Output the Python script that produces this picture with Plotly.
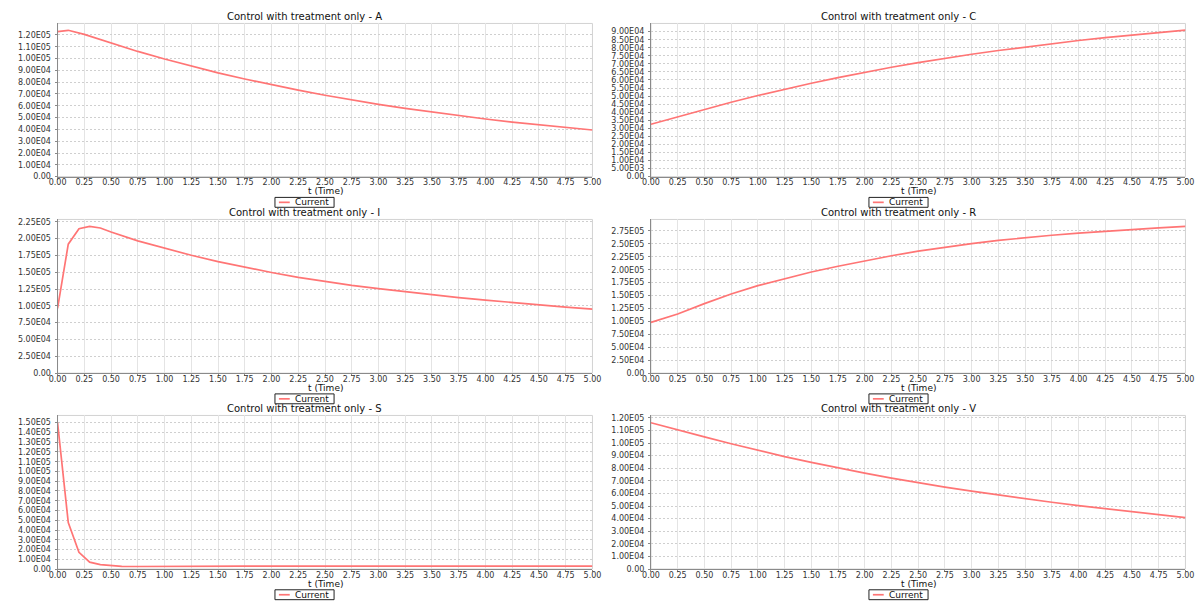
import plotly.graph_objects as go

# ---- data -------------------------------------------------------------
t_A = [0, 0.1, 0.25, 0.5, 0.75, 1.0, 1.25, 1.5, 1.75, 2.0, 2.25, 2.5, 2.75,
       3.0, 3.25, 3.5, 3.75, 4.0, 4.25, 4.5, 4.75, 5.0]
A = [122800, 123900, 120500, 113000, 106000, 99600, 93500, 87900, 82700,
     77800, 73200, 68900, 64900, 61200, 57800, 54600, 51600, 48800, 46200,
     43800, 41600, 39500]

t_C = [0, 0.25, 0.5, 0.75, 1.0, 1.25, 1.5, 1.75, 2.0, 2.25, 2.5, 2.75,
       3.0, 3.25, 3.5, 3.75, 4.0, 4.25, 4.5, 4.75, 5.0]
C = [32500, 37200, 41800, 46200, 50400, 54300, 58000, 61500, 64800, 67900,
     70800, 73500, 76000, 78300, 80500, 82600, 84500, 86300, 88000, 89600,
     91000]

t_I = [0, 0.1, 0.2, 0.3, 0.4, 0.5, 0.75, 1.0, 1.25, 1.5, 1.75, 2.0, 2.25,
       2.5, 2.75, 3.0, 3.25, 3.5, 3.75, 4.0, 4.25, 4.5, 4.75, 5.0]
I = [96400, 191700, 214700, 218100, 215700, 209800, 196600, 185400, 175200,
     165800, 157500, 149600, 142300, 136000, 130500, 125500, 120800, 116500,
     112300, 108500, 104800, 101400, 98100, 95000]

t_R = [0, 0.25, 0.5, 0.75, 1.0, 1.25, 1.5, 1.75, 2.0, 2.25, 2.5, 2.75,
       3.0, 3.25, 3.5, 3.75, 4.0, 4.25, 4.5, 4.75, 5.0]
R = [98200, 114500, 134400, 153000, 169400, 183000, 195600, 206700, 217200,
     227000, 236000, 243800, 250700, 256800, 262100, 266700, 270800, 274500,
     277900, 281000, 283800]

t_S = [0, 0.1, 0.2, 0.3, 0.4, 0.5, 0.6, 0.75, 1.0, 1.25, 1.5, 1.6, 1.75,
       2.0, 2.5, 3.0, 3.5, 4.0, 4.5, 5.0]
S = [150000, 47600, 17200, 7100, 4500, 3300, 2800, 2600, 2500, 2500, 2500,
     2900, 2900, 2900, 2950, 2950, 3000, 3000, 3000, 3000]

t_V = [0, 0.25, 0.5, 0.75, 1.0, 1.25, 1.5, 1.75, 2.0, 2.25, 2.5, 2.75,
       3.0, 3.25, 3.5, 3.75, 4.0, 4.25, 4.5, 4.75, 5.0]
V = [116100, 110300, 104900, 99400, 94100, 89200, 84700, 80300, 76100,
     72200, 68500, 65000, 61800, 58700, 55800, 53000, 50300, 47800, 45400,
     43000, 40800]

# panel name -> (times, values, axis max, top tick, tick step)
panels = [
    ("A", t_A, A, 129700, 120000, 10000),
    ("C", t_C, C, 95100, 90000, 5000),
    ("I", t_I, I, 228400, 225000, 25000),
    ("R", t_R, R, 297300, 275000, 25000),
    ("S", t_S, S, 157400, 150000, 10000),
    ("V", t_V, V, 121900, 120000, 10000),
]

x_ticks = [i * 0.25 for i in range(21)]
x_tick_text = [f"{v:.2f}" for v in x_ticks]

TITLE_PREFIX = "Control with treatment only - "
SERIES_NAME = "Current"
X_TITLE = "t (Time)"

# ---- styling / layout --------------------------------------------------
W, H = 1204, 603
LINE_COLOR = "#ff7575"
FONT = "DejaVu Sans"

col_px = [(49.3, 592.3), (651.7, 1194.3)]                 # plot-area left/right
row_px = [(21.7, 176.7), (220.0, 375.5), (418.3, 573.7)]  # plot-area top/bottom
panel_center = [300.0, 903.0]                             # chart panel centres
LEG_W, LEG_H = 60, 10                                     # legend box size (px)


def sci(v):
    if v == 0:
        return "0.00"
    m, e = f"{v:.2E}".split("E")
    return f"{m}E{int(e):02d}"


def px_x(x):
    return x / W


def px_y(y):
    return 1 - y / H


fig = go.Figure()
annotations = []
shapes = []

for k, (name, tt, vals, ymax, ytop, step) in enumerate(panels):
    row, col = divmod(k, 2)
    idx = "" if k == 0 else str(k + 1)
    xa, ya = "x" + idx, "y" + idx
    (x0, x1), (y0, y1) = col_px[col], row_px[row]

    fig.add_trace(go.Scatter(
        x=tt, y=vals, mode="lines", name=SERIES_NAME, showlegend=False,
        line=dict(color=LINE_COLOR, width=1.7), xaxis=xa, yaxis=ya,
    ))

    yticks = [i * step for i in range(int(ytop // step) + 1)]
    fig.layout["xaxis" + idx] = dict(
        domain=[px_x(x0), px_x(x1)], anchor=ya, range=[0, 5],
        tickvals=x_ticks, ticktext=x_tick_text,
        showgrid=True, gridcolor="#e4e4e4", gridwidth=1,
        showline=True, linecolor="#8a8a8a", linewidth=1,
        ticks="outside", ticklen=2, tickcolor="#8a8a8a",
        ticklabelstandoff=-4,
        tickfont=dict(family=FONT, size=8, color="#333"),
        zeroline=False, fixedrange=True,
    )
    fig.layout["yaxis" + idx] = dict(
        domain=[px_y(y1), px_y(y0)], anchor=xa, range=[0, ymax],
        tickvals=yticks, ticktext=[sci(v) for v in yticks],
        showgrid=True, gridcolor="#cfcfcf", gridwidth=1, griddash="2px,2px",
        showline=True, linecolor="#8a8a8a", linewidth=1,
        ticks="outside", ticklen=2, tickcolor="#8a8a8a",
        ticklabelstandoff=2,
        tickfont=dict(family=FONT, size=8, color="#333"),
        zeroline=False, fixedrange=True,
    )

    # light frame around the plot area
    shapes.append(dict(
        type="rect", xref=xa + " domain", yref=ya + " domain",
        x0=0, x1=1, y0=0, y1=1, line=dict(color="#d2d2d2", width=1),
        layer="below",
    ))

    # chart title
    annotations.append(dict(
        text=TITLE_PREFIX + name, xref="paper", yref="paper",
        x=px_x(panel_center[col]), y=px_y(y0 - 7),
        xanchor="center", yanchor="middle", showarrow=False,
        font=dict(family=FONT, size=10, color="#111"),
    ))
    # x-axis title
    annotations.append(dict(
        text=X_TITLE, xref="paper", yref="paper",
        x=px_x((x0 + x1) / 2), y=px_y(y1 + 15),
        xanchor="center", yanchor="middle", showarrow=False,
        font=dict(family=FONT, size=9, color="#111"),
    ))

    # legend: framed box with a line sample and the series name
    lx0 = panel_center[col] - LEG_W / 2
    ly0 = y1 + 21
    ly_mid = ly0 + LEG_H / 2
    shapes.append(dict(
        type="rect", xref="paper", yref="paper",
        x0=px_x(lx0), x1=px_x(lx0 + LEG_W),
        y0=px_y(ly0 + LEG_H), y1=px_y(ly0),
        line=dict(color="#222", width=1), fillcolor="white",
    ))
    shapes.append(dict(
        type="line", xref="paper", yref="paper",
        x0=px_x(lx0 + 4), x1=px_x(lx0 + 15),
        y0=px_y(ly_mid), y1=px_y(ly_mid),
        line=dict(color=LINE_COLOR, width=1.7),
    ))
    annotations.append(dict(
        text=SERIES_NAME, xref="paper", yref="paper",
        x=px_x(lx0 + 19), y=px_y(ly_mid),
        xanchor="left", yanchor="middle", showarrow=False,
        font=dict(family=FONT, size=9, color="#111"),
        borderpad=0,
    ))

fig.update_layout(
    width=W, height=H, margin=dict(l=0, r=0, t=0, b=0),
    paper_bgcolor="white", plot_bgcolor="white",
    annotations=annotations, shapes=shapes, showlegend=False,
)

fig.write_html("out.html")
